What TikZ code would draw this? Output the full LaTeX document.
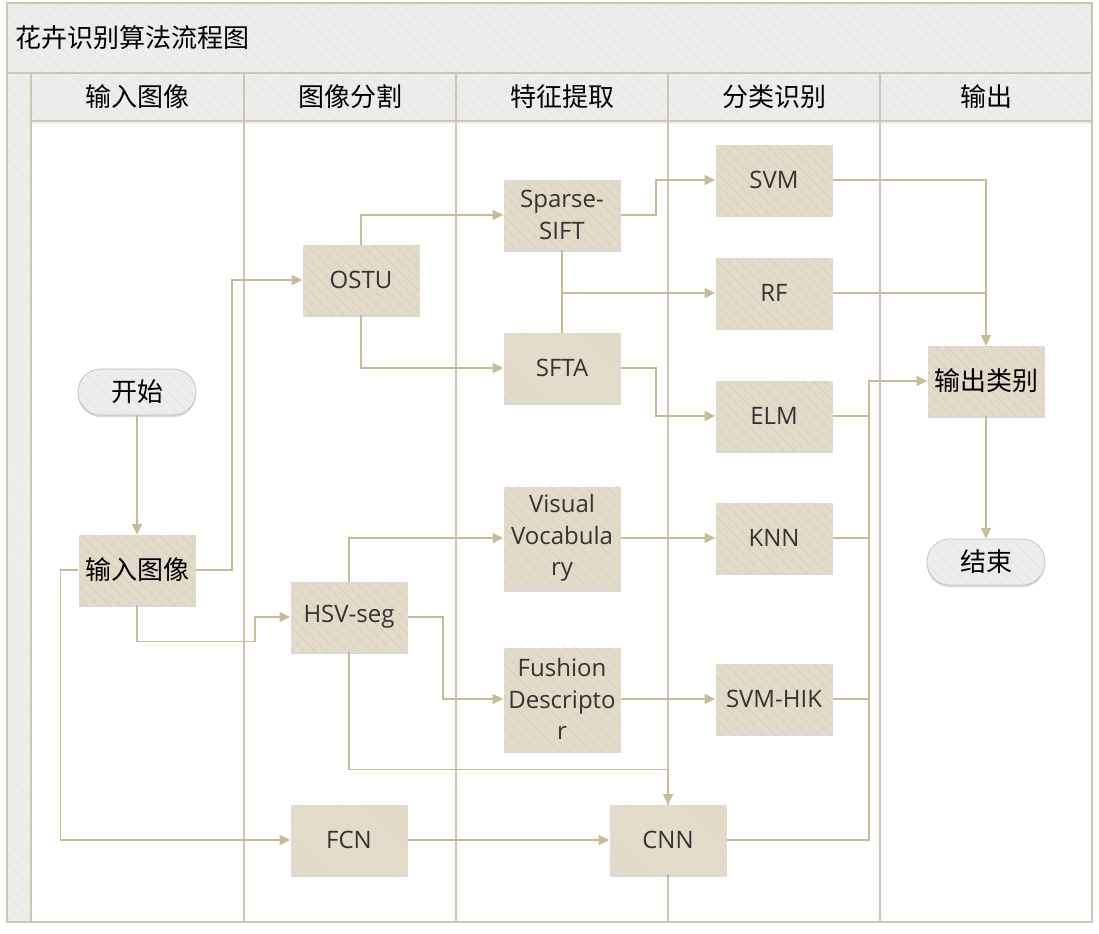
\documentclass[tikz,border=0pt]{standalone}
\usepackage{fontspec}
\newfontfamily\cjk{Noto Sans CJK SC}
\newfontfamily\lightsans{Open Sans}
\usetikzlibrary{arrows.meta,patterns.meta,shadows}
\definecolor{boxfill}{RGB}{227,219,201}
\definecolor{boxhatch}{RGB}{212,202,180}
\definecolor{greyfill}{RGB}{237,237,237}
\definecolor{greyhatch}{RGB}{224,224,224}
\definecolor{flowc}{RGB}{200,188,150}
\definecolor{lanec}{RGB}{206,198,178}
\definecolor{framec}{RGB}{196,190,172}
\tikzset{
  hatched/.style={postaction={pattern={Lines[angle=-45,distance=6.5pt,line width=0.45pt]},pattern color=#1}},
  box/.style={fill=boxfill, hatched=boxhatch, minimum width=87.75pt, minimum height=52.5pt,
    align=center, inner sep=2pt, text=black!80,
    drop shadow={shadow xshift=0pt,shadow yshift=-1.6pt,fill=black,opacity=0.15},
    font=\lightsans\fontsize{18}{23.5}\selectfont},
  tallbox/.style={box, minimum height=77.25pt},
  cjkbox/.style={box, text=black, font=\cjk\fontsize{19.5}{23}\selectfont},
  pill/.style={fill=greyfill, hatched=greyhatch, draw=framec, line width=0.5pt,
    rounded corners=17pt, minimum width=88.5pt, minimum height=34.5pt,
    drop shadow={shadow xshift=0pt,shadow yshift=-1.6pt,fill=black,opacity=0.15},
    font=\cjk\fontsize{19.5}{23}\selectfont},
  headtxt/.style={font=\cjk\fontsize{19.5}{23}\selectfont, inner sep=0pt},
  flow/.style={draw=flowc, line width=1.1pt, -{Triangle[length=8pt,width=7.5pt]}},
  link/.style={draw=flowc, line width=1.1pt},
  lane/.style={draw=lanec, line width=0.8pt},
}
\begin{document}
\begin{tikzpicture}[x=0.75pt,y=0.75pt,yscale=-1,xscale=1]
    \useasboundingbox (0,0) rectangle (1099,933);

    %% swimlane frame
    \fill[greyfill, hatched=greyhatch] (7,3) rectangle (1092,73);
    \fill[greyfill, hatched=greyhatch] (7,73) rectangle (1092,121);
    \fill[greyfill, hatched=greyhatch] (7,121) rectangle (31,922);
    \fill[black, opacity=0.06] (31,121) rectangle (1092,124);
    \draw[lane] (7,3) rectangle (1092,922);
    \draw[lane] (7,73) -- (1092,73);
    \draw[lane] (31,121) -- (1092,121);
    \foreach \lx in {31,244,456,668,880}
      \draw[lane] (\lx,73) -- (\lx,922);

    % title and lane headers
    \node (title) [headtxt, anchor=west] at (15,38) {花卉识别算法流程图};
    \foreach \cx/\txt [count=\i] in {137.5/输入图像, 350/图像分割, 562/特征提取, 774/分类识别, 986/输出}
      \node (head\i) [headtxt] at (\cx,97) {\txt};

    %% nodes
    \node (start) [pill] at (137,392) {开始};
    \node (input) [cjkbox] at (137,570) {输入图像};
    \node (ostu) [box] at (361,280) {OSTU};
    \node (hsv) [box] at (349,617) {HSV-seg};
    \node (fcn) [box] at (349,840) {FCN};
    \node (sift) [box] at (562,215) {Sparse-\\SIFT};
    \node (sfta) [box] at (562,368) {SFTA};
    \node (vocab) [tallbox] at (562,538) {Visual\\Vocabula\\ry};
    \node (fusion) [tallbox] at (562,699) {Fushion\\Descripto\\r};
    \node (cnn) [box] at (668,840) {CNN};
    \node (svm) [box] at (774,180) {SVM};
    \node (rf) [box] at (774,293) {RF};
    \node (elm) [box] at (774,416) {ELM};
    \node (knn) [box] at (774,538) {KNN};
    \node (hik) [box] at (774,699) {SVM-HIK};
    \node (label) [cjkbox] at (986,381) {输出类别};
    \node (stop) [pill] at (986,562) {结束};

    %% connectors
    \draw[flow] (start) -- (input);
    \draw[flow] (input.east) -- ++(36,0) |- (ostu.west);
    \draw[flow] (input.south) -- ++(0,36) -- ++(118,0) |- (hsv.west);
    \draw[flow] (input.west) -- ++(-18,0) |- (fcn.west);
    \draw[flow] (ostu.north) |- (sift.west);
    \draw[flow] (ostu.south) |- (sfta.west);
    \draw[flow] (sift.east) -- ++(35,0) |- (svm.west);
    \draw[link] (sfta.north) -- (sift.south);
    \draw[flow] (sift.south) |- (rf.west);
    \draw[flow] (sfta.east) -- ++(35,0) |- (elm.west);
    \draw[flow] (hsv.north) |- (vocab.west);
    \draw[flow] (hsv.east) -- ++(35,0) |- (fusion.west);
    \draw[flow] (hsv.south) -- ++(0,117) -| (cnn.north);
    \draw[flow] (fcn) -- (cnn);
    \draw[flow] (vocab) -- (knn);
    \draw[flow] (fusion) -- (hik);
    \draw[flow] (svm.east) -| (label.north);
    \draw[link] (rf.east) -- (rf.east -| label.north);
    \draw[flow] (cnn.east) -- ++(142,0) |- (label.west);
    \foreach \n in {elm,knn,hik}
      \draw[link] (\n.east) -- ++(36,0);
    \draw[flow] (label) -- (stop);

\end{tikzpicture}
\end{document}
